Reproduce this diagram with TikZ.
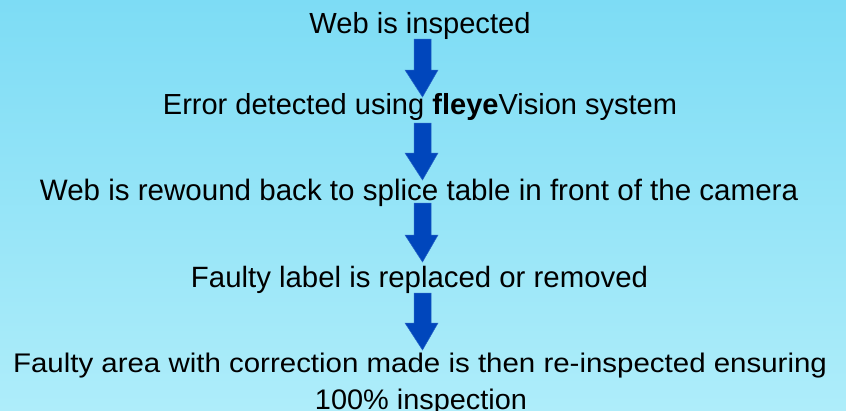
\documentclass[tikz,border=0pt]{standalone}
\usepackage{fontspec}
\setmainfont{Liberation Sans}
\usepackage{graphicx}
\definecolor{bgtop}{RGB}{125,220,245}
\definecolor{bgbot}{RGB}{174,237,250}
\definecolor{arrowblue}{RGB}{0,70,188}
\tikzset{
  lbl/.style={anchor=base, inner sep=0pt, text=black},
  blockarrow/.style={fill=arrowblue, draw=arrowblue!85!white, line width=0.5pt, line join=miter}
}
\newcommand{\blockarr}[3]{%
  \filldraw[blockarrow] (414,-#1) -- (431,-#1) -- (431,-#2) -- (438,-#2) -- (422.5,-#3) -- (405,-#2) -- (414,-#2) -- cycle;}
\begin{document}
\begin{tikzpicture}[x=1pt,y=1pt]
\shade[top color=bgtop, bottom color=bgbot] (0,-410) rectangle (846,0);
\useasboundingbox (0,-410) rectangle (846,0);

\node[lbl] (t1) at (420,-33) {\resizebox{221pt}{!}{Web is inspected}};
\node[lbl] (t2) at (420,-114) {\resizebox{514pt}{!}{Error detected using \textbf{fleye}Vision system}};
\node[lbl] (t3) at (419,-200) {\resizebox{758pt}{!}{Web is rewound back to splice table in front of the camera}};
\node[lbl] (t4) at (419.5,-287) {\resizebox{457pt}{!}{Faulty label is replaced or removed}};
\node[lbl] (t5) at (420,-372) {\resizebox{814pt}{19.5pt}{Faulty area with correction made is then re-inspected ensuring}};
\node[lbl] (t6) at (421,-409) {\resizebox{212pt}{20.5pt}{100\% inspection}};

\blockarr{39}{70}{97}
\blockarr{123}{153}{180}
\blockarr{203}{235}{262}
\blockarr{293}{323}{350}
\end{tikzpicture}
\end{document}
